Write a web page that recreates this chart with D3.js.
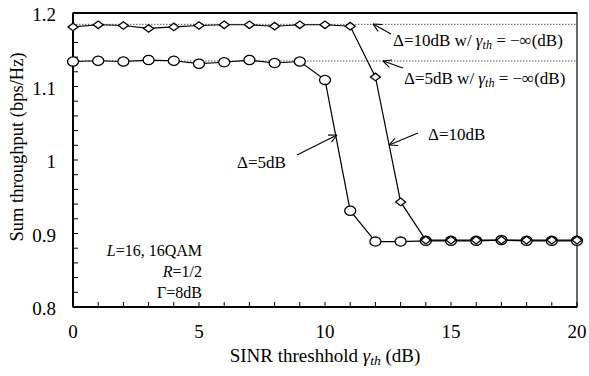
<!DOCTYPE html>
<html>
<head>
<meta charset="utf-8">
<script src="https://cdn.jsdelivr.net/npm/d3@7"></script>
<style>
body { margin: 0; background: #fff; }
svg text { font-family: "Liberation Serif", "Times New Roman", serif; fill: #000; }
</style>
</head>
<body>
<svg id="chart" width="589" height="376"></svg>
<script>
// data
const xs = [0,1,2,3,4,5,6,7,8,9,10,11,12,13,14,15,16,17,18,19,20];
const delta5 = [1.134,1.135,1.134,1.136,1.135,1.131,1.133,1.136,1.132,1.134,1.109,0.931,0.889,0.889,0.890,0.890,0.890,0.891,0.890,0.890,0.890];
const delta10 = [1.181,1.184,1.183,1.179,1.181,1.183,1.184,1.184,1.182,1.184,1.184,1.182,1.113,0.943,0.891,0.891,0.891,0.891,0.891,0.891,0.891];
const ref5 = 1.1347;
const ref10 = 1.1846;
const yTicks = [0.8, 0.9, 1, 1.1, 1.2];
const xTicks = [0, 5, 10, 15, 20];

const svg = d3.select("#chart");
const m = {left: 73, right: 577, top: 13, bottom: 307};

const x = d3.scaleLinear().domain([0, 20]).range([m.left, m.right]);
const y = d3.scaleLinear().domain([0.8, 1.2]).range([m.bottom, m.top]);

// frame
svg.append("rect")
  .attr("x", m.left).attr("y", m.top)
  .attr("width", m.right - m.left).attr("height", m.bottom - m.top)
  .attr("fill", "none").attr("stroke", "#000").attr("stroke-width", 1.2);

// minor ticks (inward)
let yMinor = d3.range(0.8, 1.2001, 0.02);
svg.append("g").selectAll("line").data(yMinor).join("line")
  .attr("x1", m.left).attr("x2", m.left + 5)
  .attr("y1", d => y(d)).attr("y2", d => y(d))
  .attr("stroke", "#000").attr("stroke-width", 1);
svg.append("g").selectAll("line").data(d3.range(0, 21, 1)).join("line")
  .attr("x1", d => x(d)).attr("x2", d => x(d))
  .attr("y1", m.bottom).attr("y2", m.bottom - 5)
  .attr("stroke", "#000").attr("stroke-width", 1);

// thick left, bottom, top
svg.append("line").attr("x1", m.left).attr("x2", m.left).attr("y1", m.top).attr("y2", m.bottom)
  .attr("stroke", "#000").attr("stroke-width", 2);
svg.append("line").attr("x1", m.left).attr("x2", m.right).attr("y1", m.bottom).attr("y2", m.bottom)
  .attr("stroke", "#000").attr("stroke-width", 2);
svg.append("line").attr("x1", m.left).attr("x2", m.right).attr("y1", m.top).attr("y2", m.top)
  .attr("stroke", "#000").attr("stroke-width", 2);

// tick labels
svg.append("g").selectAll("text").data(yTicks).join("text")
  .attr("x", m.left - 17).attr("y", d => y(d) + 8)
  .attr("text-anchor", "end").attr("font-size", 19)
  .text(d => d);
svg.append("g").selectAll("text").data(xTicks).join("text")
  .attr("x", d => x(d)).attr("y", 338)
  .attr("text-anchor", "middle").attr("font-size", 19)
  .text(d => d);

// axis titles
let xt = svg.append("text").attr("x", 325).attr("y", 362)
  .attr("text-anchor", "middle").attr("font-size", 19);
xt.append("tspan").text("SINR threshhold ");
xt.append("tspan").attr("font-style", "italic").text("γ");
xt.append("tspan").attr("font-style", "italic").attr("font-size", 13.5).attr("dy", 3).text("th");
xt.append("tspan").attr("dy", -3).text(" (dB)");

svg.append("text")
  .attr("transform", "translate(23,147) rotate(-90)")
  .attr("text-anchor", "middle").attr("font-size", 18.5)
  .text("Sum throughput (bps/Hz)");

// dotted reference lines
svg.append("g").selectAll("line").data([ref10, ref5]).join("line")
  .attr("x1", m.left).attr("x2", m.right)
  .attr("y1", d => y(d)).attr("y2", d => y(d))
  .attr("stroke", "#555").attr("stroke-width", 1).attr("stroke-dasharray", "1.5,1.5");

// series lines
const line = d3.line().x((d, i) => x(xs[i])).y(d => y(d));
[delta5, delta10].forEach(s => {
  svg.append("path").datum(s).attr("d", line)
    .attr("fill", "none").attr("stroke", "#000").attr("stroke-width", 1.2);
});

// markers
svg.append("g").selectAll("ellipse").data(delta5).join("ellipse")
  .attr("cx", (d, i) => x(xs[i])).attr("cy", d => y(d))
  .attr("rx", 5.5).attr("ry", 4.6)
  .attr("fill", "#fff").attr("stroke", "#000").attr("stroke-width", 1.3);
svg.append("g").selectAll("path").data(delta10).join("path")
  .attr("d", (d, i) => {
    let cx = x(xs[i]), cy = y(d);
    return `M${cx - 5},${cy}L${cx},${cy - 3.8}L${cx + 5},${cy}L${cx},${cy + 3.8}Z`;
  })
  .attr("fill", "#fff").attr("stroke", "#000").attr("stroke-width", 1.3);

// annotations with arrows
function arrow(x1, y1, x2, y2) {
  svg.append("line").attr("x1", x1).attr("y1", y1).attr("x2", x2).attr("y2", y2)
    .attr("stroke", "#000").attr("stroke-width", 1.1);
  let a = Math.atan2(y2 - y1, x2 - x1), L = 9, w = 0.45;
  [a + w, a - w].forEach(t => {
    svg.append("line").attr("x1", x2).attr("y1", y2)
      .attr("x2", x2 - L * Math.cos(t)).attr("y2", y2 - L * Math.sin(t))
      .attr("stroke", "#000").attr("stroke-width", 1.1);
  });
}
function refLabel(tx, ty, dB) {
  let t = svg.append("text").attr("x", tx).attr("y", ty).attr("font-size", 17);
  t.append("tspan").text("Δ=" + dB + "dB w/ ");
  t.append("tspan").attr("font-style", "italic").text("γ");
  t.append("tspan").attr("font-style", "italic").attr("font-size", 12).attr("dy", 3).text("th");
  t.append("tspan").attr("dy", -3).text(" = −∞(dB)");
}
arrow(391, 34, 373, 24);
refLabel(393, 46, 10);
arrow(403, 68, 383, 61);
refLabel(404, 84, 5);
arrow(297, 155, 337, 135);
svg.append("text").attr("x", 237).attr("y", 168).attr("font-size", 17).text("Δ=5dB");
arrow(418, 133, 389, 145);
svg.append("text").attr("x", 428).attr("y", 140).attr("font-size", 17).text("Δ=10dB");

// parameters
let p1 = svg.append("text").attr("x", 202).attr("y", 256).attr("text-anchor", "end").attr("font-size", 16);
p1.append("tspan").attr("font-style", "italic").text("L");
p1.append("tspan").text("=16, 16QAM");
let p2 = svg.append("text").attr("x", 202).attr("y", 277).attr("text-anchor", "end").attr("font-size", 16);
p2.append("tspan").attr("font-style", "italic").text("R");
p2.append("tspan").text("=1/2");
svg.append("text").attr("x", 202).attr("y", 298).attr("text-anchor", "end").attr("font-size", 16).text("Γ=8dB");
</script>
</body>
</html>
